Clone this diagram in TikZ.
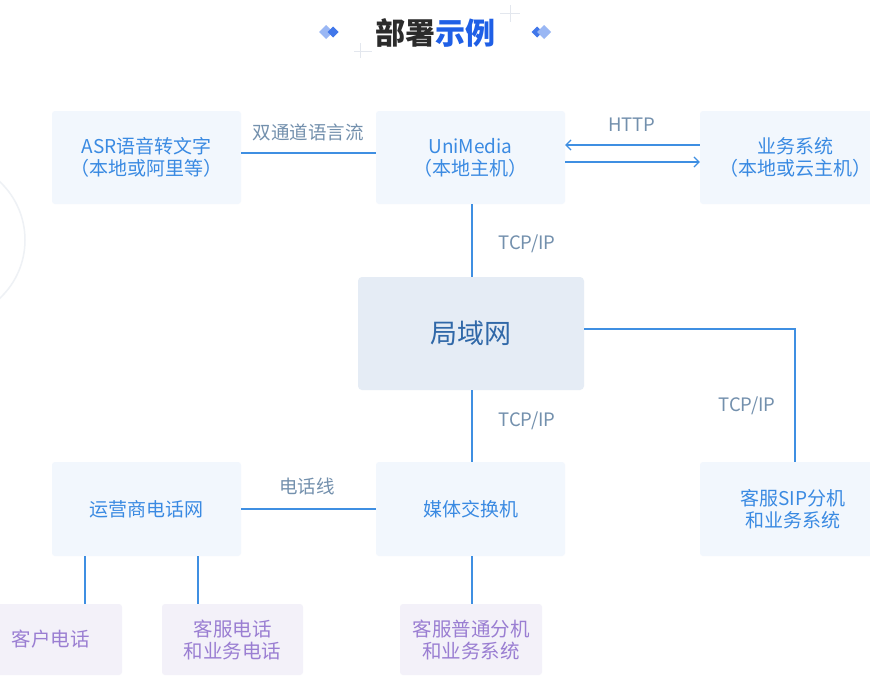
\documentclass[tikz,border=0pt]{standalone}
\usepackage{fontspec}
\setmainfont{Noto Sans CJK SC}
\usetikzlibrary{arrows.meta,calc}
\definecolor{boxfill}{HTML}{F2F7FD}
\definecolor{lanfill}{HTML}{E5ECF5}
\definecolor{purplefill}{HTML}{F3F1F9}
\definecolor{boxtext}{HTML}{3A8AE2}
\definecolor{lantext}{HTML}{3068A8}
\definecolor{purpletext}{HTML}{9A7ED2}
\definecolor{labeltext}{HTML}{7390AD}
\definecolor{linecol}{HTML}{3F8FE2}
\definecolor{titledark}{HTML}{2B2B2B}
\definecolor{titleblue}{HTML}{1F5FE6}
\definecolor{deco}{HTML}{E3E7EE}
\tikzset{
  box/.style={fill=boxfill, rounded corners=3pt, text=boxtext, align=center,
    inner sep=0pt, font=\fontsize{19}{22}\selectfont},
  lanbox/.style={fill=lanfill, rounded corners=4pt, text=lantext, align=center,
    inner sep=0pt, font=\fontsize{27}{32}\selectfont},
  pbox/.style={fill=purplefill, rounded corners=3pt, text=purpletext, align=center,
    inner sep=0pt, font=\fontsize{19.5}{22}\selectfont},
  conn/.style={draw=linecol, line width=1.2pt},
  arr/.style={conn, -{Straight Barb[length=5pt,width=10pt,line width=1.2pt]}},
  lbl/.style={text=labeltext, font=\fontsize{18.5}{21}\selectfont, inner sep=0pt},
}
\begin{document}
\begin{tikzpicture}[x=1pt,y=-1pt]
\useasboundingbox[fill=white] (0,0) rectangle (870,683);
\begin{scope}
\clip (0,0) rectangle (870,683);
% faint decorative arc
\draw[deco!60, line width=1.5pt] (-55,240) circle[radius=80];
% title
\node (title) at (435,33) {\fontsize{30}{34}\selectfont\bfseries\textcolor{titledark}{部署}\textcolor{titleblue}{示例}};
\fill[titleblue!45] (326,25) -- (333,32) -- (326,39) -- (319,32) -- cycle;
\fill[titleblue!85] (333,26.5) -- (338.5,32) -- (333,37.5) -- (327.5,32) -- cycle;
\fill[titleblue!85] (537,26.5) -- (542.5,32) -- (537,37.5) -- (531.5,32) -- cycle;
\fill[titleblue!45] (544,25) -- (551,32) -- (544,39) -- (537,32) -- cycle;
\draw[deco, line width=0.6pt] (360,43) -- (360,58) (354,51) -- (372,51);
\draw[deco, line width=0.6pt] (510,5) -- (510,22) (500,13) -- (520,13);
% boxes
\node[box, minimum width=189pt, minimum height=93pt] (asr) at (146.5,157.5) {ASR语音转文字\\（本地或阿里等）};
\node[box, minimum width=189pt, minimum height=93pt] (uni) at (470.5,157.5) {UniMedia\\（本地主机）};
\node[box, minimum width=190pt, minimum height=93pt] (biz) at (795,157.5) {业务系统\\（本地或云主机）};
\node[lanbox, minimum width=226pt, minimum height=113pt] (lan) at (471,333.5) {局域网};
\node[box, minimum width=189pt, minimum height=94pt] (carrier) at (146.5,509) {运营商电话网};
\node[box, minimum width=189pt, minimum height=94pt] (media) at (470.5,509) {媒体交换机};
\node[box, minimum width=186pt, minimum height=94pt] (sip) at (793,509) {客服SIP分机\\和业务系统};
\node[pbox, minimum width=142pt, minimum height=71pt] (client) at (51,639.5) {客户电话};
\node[pbox, minimum width=141pt, minimum height=71pt] (agent) at (232.5,639.5) {客服电话\\和业务电话};
\node[pbox, minimum width=142pt, minimum height=71pt] (ext) at (471,639.5) {客服普通分机\\和业务系统};
% connectors
\draw[conn] ([yshift=4.5pt]asr.east) -- ([yshift=4.5pt]uni.west);
\node[lbl] (l1) at (308,132) {双通道语言流};
\draw[arr] ([yshift=12.5pt]biz.west) -- ([yshift=12.5pt]uni.east);
\draw[arr] ([yshift=-4.5pt]uni.east) -- ([yshift=-4.5pt]biz.west);
\node[lbl] (l2) at (632,125) {HTTP};
\draw[conn] ([xshift=1.5pt]uni.south) -- ([xshift=1pt]lan.north);
\node[lbl] (l3) at (527,244) {TCP/IP};
\draw[conn] ([yshift=4.5pt]lan.east) -| ([xshift=2pt]sip.north);
\node[lbl] (l4) at (747,406) {TCP/IP};
\draw[conn] ([xshift=1pt]lan.south) -- ([xshift=1.5pt]media.north);
\node[lbl] (l5) at (527,421) {TCP/IP};
\draw[conn] (carrier.east) -- (media.west);
\node[lbl] (l6) at (307,486) {电话线};
\draw[conn] ([xshift=-61.5pt]carrier.south) -- ([xshift=-61.5pt]carrier.south |- client.north);
\draw[conn] ([xshift=51.5pt]carrier.south) -- ([xshift=51.5pt]carrier.south |- agent.north);
\draw[conn] ([xshift=1.5pt]media.south) -- ([xshift=1.5pt]media.south |- ext.north);
\end{scope}
\end{tikzpicture}
\end{document}
